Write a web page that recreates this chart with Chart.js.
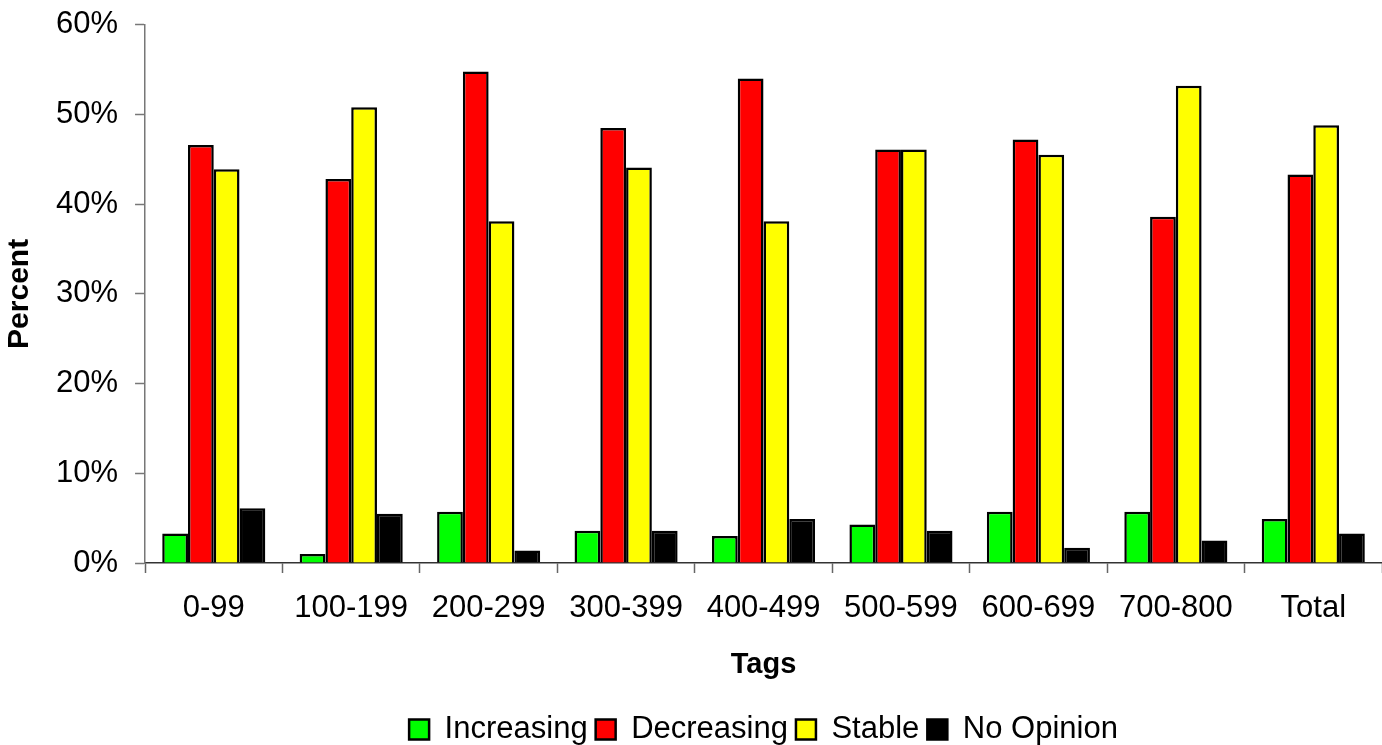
<!DOCTYPE html>
<html>
<head>
<meta charset="utf-8">
<script src="https://cdn.jsdelivr.net/npm/chart.js@4/dist/chart.umd.min.js"></script>
<style>
  html, body { margin: 0; padding: 0; background: #fff; }
  #wrap { width: 1382px; height: 745px; position: relative; }
</style>
</head>
<body>
<div id="wrap"><canvas id="tagsChart"></canvas></div>
<script>
// data
const tags = ["0-99", "100-199", "200-299", "300-399", "400-499", "500-599", "600-699", "700-800", "Total"];
const increasing = [3.3, 1.0, 5.7, 3.6, 3.0, 4.3, 5.7, 5.7, 4.9];
const decreasing = [46.6, 42.8, 54.8, 48.5, 54.0, 46.1, 47.2, 38.6, 43.3];
const stable = [43.9, 50.8, 38.1, 44.1, 38.1, 46.1, 45.5, 53.2, 48.8];
const noOpinion = [6.1, 5.5, 1.4, 3.6, 4.9, 3.6, 1.7, 2.5, 3.3];

const fontFam = "'Liberation Sans', Arial, sans-serif";
Chart.defaults.font.family = fontFam;
Chart.defaults.color = "#000";

const canvas = document.getElementById("tagsChart");

const makeSet = function (label, values, color) {
  return {
    label: label,
    data: values,
    backgroundColor: color,
    borderColor: "#000",
    borderWidth: 2.5,
    categoryPercentage: 0.75,
    barPercentage: 1.0,
  };
};

let myChart = new Chart(canvas, {
  type: "bar",
  data: {
    labels: tags,
    datasets: [
      makeSet("Increasing", increasing, "#00ff00"),
      makeSet("Decreasing", decreasing, "#ff0000"),
      makeSet("Stable", stable, "#ffff00"),
      makeSet("No Opinion", noOpinion, "#000000"),
    ],
  },
  options: {
    responsive: true,
    maintainAspectRatio: false,
    animation: false,
    layout: { padding: { top: 0, right: 0, left: 0, bottom: -10 } },
    plugins: {
      tooltip: { enabled: false },
      legend: {
        position: "bottom",
        fullSize: false,
        labels: {
          boxWidth: 20,
          boxHeight: 20,
          padding: 8,
          font: { size: 31 },
          color: "#000",
        },
      },
    },
    scales: {
      x: {
        border: { color: "#333", width: 1.5 },
        grid: {
          drawOnChartArea: false,
          tickLength: 10,
          tickColor: "#666",
          tickWidth: 1.5,
        },
        ticks: { font: { size: 31 }, padding: 17, color: "#000" },
        title: {
          display: true,
          text: "Tags",
          font: { size: 29, weight: "bold" },
          padding: { top: 3, bottom: 24 },
          color: "#000",
        },
      },
      y: {
        min: 0,
        max: 60,
        border: { color: "#777", width: 1.5 },
        grid: {
          drawOnChartArea: false,
          tickLength: 10,
          tickColor: "#777",
          tickWidth: 1.5,
        },
        ticks: {
          stepSize: 10,
          font: { size: 31, lineHeight: 0.5 },
          padding: 17,
          color: "#000",
          callback: (v) => v + "%",
        },
        title: {
          display: true,
          text: "Percent",
          font: { size: 30, weight: "bold", lineHeight: 1.0 },
          padding: { top: 5, bottom: 4 },
          color: "#000",
        },
      },
    },
  },
});
</script>
</body>
</html>
